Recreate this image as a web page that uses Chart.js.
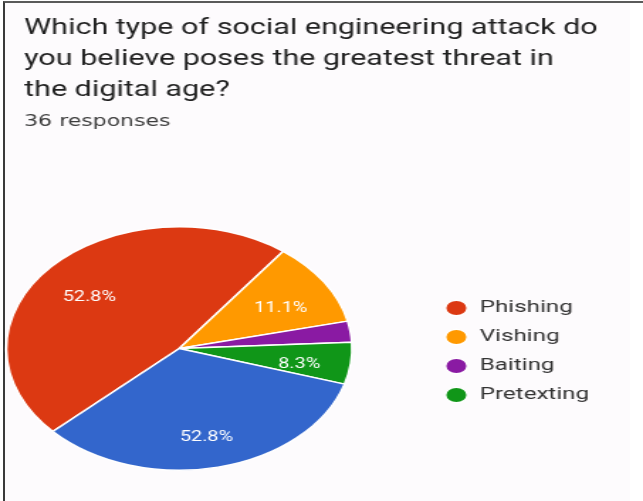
<!DOCTYPE html>
<html>
<head>
<meta charset="utf-8">
<title>Social engineering survey</title>
<script src="https://cdn.jsdelivr.net/npm/chart.js@4.4.1/dist/chart.umd.min.js"></script>
<style>
  html, body { margin: 0; padding: 0; background: #fff; }
  body { width: 643px; height: 501px; position: relative; overflow: hidden; }
  #frame { position: absolute; left: 3px; top: 1px; width: 640px; height: 500px;
           border-top: 2px solid #5a5a5a; border-left: 2px solid #3a3a3a; }
  #tint { position: absolute; left: 5px; top: 3px; width: 625px; height: 498px; background: #fdfbfd; }
  #chart { position: absolute; left: 0; top: 0; }
</style>
</head>
<body>
<div id="tint"></div>
<div id="frame"></div>
<canvas id="chart" width="453" height="501" style="width:643px;height:501px"></canvas>
<script>
// question text and response count
const question = [
  "Which type of social engineering attack do",
  "you believe poses the greatest threat in",
  "the digital age?"
];
const responses = "36 responses";

// slices (last one has no legend entry in the original)
const categories = ["Phishing", "Vishing", "Baiting", "Pretexting", "Other"];
const counts = [17, 4, 1, 2, 12];
const sliceLabels = ["52.8%", "11.1%", "", "8.3%", "52.8%"];
const colors = ["#dc3912", "#ff9900", "#8a1aa3", "#109618", "#3366cc"];

// the screenshot is stretched sideways, so the canvas is too (453 -> 643)
const titleShift = 16;
const legendShift = 50;
const legendDrop = 3;
const labelDrop = 6;

const nudge = {
  id: "nudge",
  afterLayout(chart) {
    chart.boxes.forEach(function (b) {
      if (b.position === "top") {
        // let the question run across the whole width, not just the padded area
        b.left += titleShift;
        b.right = chart.width;
        b.width = b.right - b.left;
      }
      if (b.position === "right") {
        b.left += legendShift; b.right += legendShift;
        b.top += legendDrop; b.bottom += legendDrop;
      }
    });
  }
};

const sliceText = {
  id: "sliceText",
  afterDatasetsDraw(chart) {
    const ctx = chart.ctx;
    const arcs = chart.getDatasetMeta(0).data;
    ctx.save();
    ctx.fillStyle = "#ffffff";
    ctx.font = "14px Roboto";
    ctx.textAlign = "center";
    ctx.textBaseline = "middle";
    arcs.forEach(function (arc, i) {
      if (!sliceLabels[i]) return;
      const p = arc.getProps(["x", "y", "startAngle", "endAngle", "outerRadius"], true);
      const mid = (p.startAngle + p.endAngle) / 2;
      const r = p.outerRadius * 0.7;
      ctx.fillText(sliceLabels[i], p.x + Math.cos(mid) * r, p.y + Math.sin(mid) * r + labelDrop);
    });
    ctx.restore();
  }
};

let ctx = document.getElementById("chart");
var chart1 = new Chart(ctx, {
  type: "pie",
  data: {
    labels: categories,
    datasets: [{
      data: counts,
      backgroundColor: colors,
      borderColor: "#ffffff",
      borderWidth: 1.5,
      rotation: 227
    }]
  },
  options: {
    responsive: false,
    animation: false,
    devicePixelRatio: 1,
    events: [],
    layout: {
      padding: { left: 1, right: 78, top: 0, bottom: 30 }
    },
    plugins: {
      title: {
        display: true,
        text: question,
        align: "start",
        color: "#1f1f1f",
        font: { family: "Roboto", size: 21.5, weight: "normal", lineHeight: 1.45 },
        padding: { top: 13, bottom: 0 }
      },
      subtitle: {
        display: true,
        text: responses,
        align: "start",
        color: "#3c3c3c",
        font: { family: "DejaVu Sans", size: 15.5, weight: "normal", lineHeight: 1.2 },
        padding: { top: 5.9, bottom: 95 }
      },
      legend: {
        display: true,
        position: "right",
        align: "center",
        fullSize: false,
        labels: {
          usePointStyle: true,
          pointStyle: "circle",
          boxWidth: 16,
          boxHeight: 11,
          padding: 12,
          color: "#333333",
          font: { family: "Roboto", size: 17 },
          filter: function (item) { return item.index < 4; }
        }
      },
      tooltip: { enabled: false }
    }
  },
  plugins: [nudge, sliceText]
});
</script>
</body>
</html>
